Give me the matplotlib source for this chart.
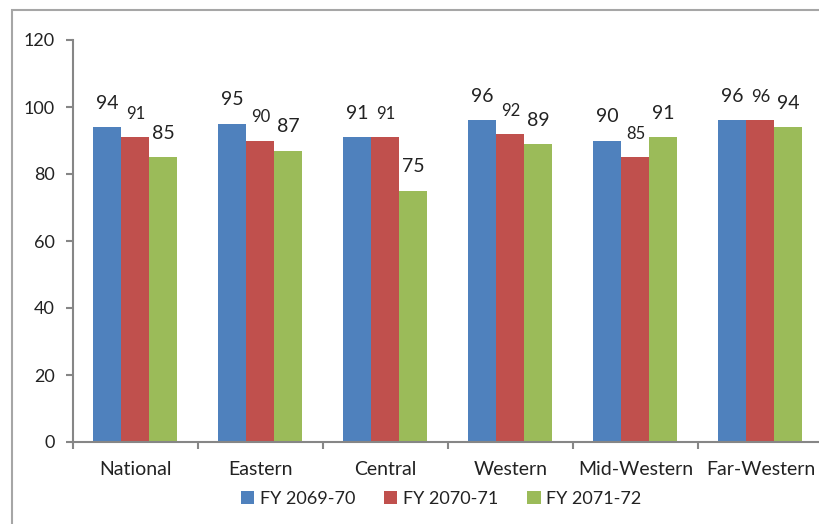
import matplotlib.pyplot as plt
import matplotlib.patches as mpatches
import numpy as np

plt.rcParams['font.family'] = ['Lato', 'DejaVu Sans']

regions = ['National', 'Eastern', 'Central', 'Western', 'Mid-Western', 'Far-Western']
fy_6970 = [94, 95, 91, 96, 90, 96]
fy_7071 = [91, 90, 91, 92, 85, 96]
fy_7172 = [85, 87, 75, 89, 91, 94]
series_names = ['FY 2069-70', 'FY 2070-71', 'FY 2071-72']
colors = ['#4F81BD', '#C0504D', '#9BBB59']
label_sizes = [14, 12, 14]

fig = plt.figure(figsize=(8.2, 5.24), dpi=100)
# outer chart frame (cropped at right and bottom like the original)
fig.patches.append(mpatches.Rectangle((12 / 820, -0.1), 1.2, 1.1 - 10 / 524,
                                      transform=fig.transFigure, fill=False,
                                      edgecolor='#a6a6a6', linewidth=1.5))

ax = fig.add_axes([73 / 820, 1 - 442 / 524, 750 / 820, 402 / 524])
x = np.arange(len(regions))
w = 0.224
for i, (vals, name) in enumerate(zip([fy_6970, fy_7071, fy_7172], series_names)):
    pos = x + (i - 1) * w
    ax.bar(pos, vals, w, color=colors[i], label=name, edgecolor='none')
    for p, v in zip(pos, vals):
        ax.annotate(str(v), (p, v), xytext=(0, 11), textcoords='offset points',
                    ha='center', va='bottom', fontsize=label_sizes[i], color='#222222')

ax.set_xlim(-0.5, len(regions) - 0.5)
ax.set_ylim(0, 120)
ax.set_yticks(range(0, 121, 20))
ax.set_xticks(x)
ax.set_xticklabels(regions)
ax.set_xticks(np.arange(-0.5, len(regions), 1), minor=True)
ax.tick_params(axis='x', which='major', length=0, pad=14, labelsize=14, labelcolor='#222222')
ax.tick_params(axis='x', which='minor', length=5, color='#868686', width=1.5)
ax.tick_params(axis='y', length=5, color='#868686', width=1.5, pad=8, labelsize=13, labelcolor='#222222')
for s in ['top', 'right']:
    ax.spines[s].set_visible(False)
for s in ['left', 'bottom']:
    ax.spines[s].set_color('#868686')
    ax.spines[s].set_linewidth(1.5)

fig.legend(loc='center', bbox_to_anchor=(441 / 820, 1 - 499 / 524), ncol=3, frameon=False,
           fontsize=13, handlelength=0.75, handleheight=0.75, handletextpad=0.3,
           columnspacing=1.6, labelcolor='#222222')

fig.savefig('out.png', dpi=100)
